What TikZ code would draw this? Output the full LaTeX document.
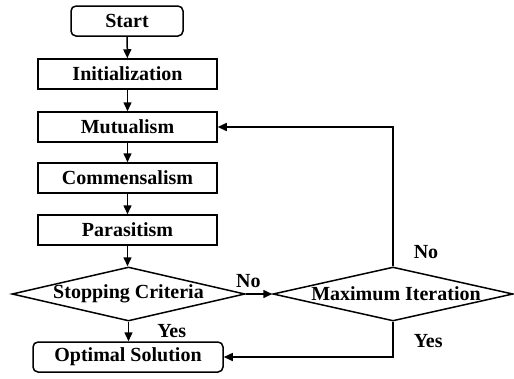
\documentclass[tikz,border=0pt]{standalone}
\usepackage{fontspec}
\setmainfont{Liberation Serif}
\usetikzlibrary{shapes.geometric,arrows.meta}
\begin{document}
\begin{tikzpicture}[x=1pt,y=-1pt,
  every node/.style={font=\fontsize{20}{23}\selectfont\bfseries, line width=1.5pt},
  proc/.style={draw, rectangle, minimum width=179pt, minimum height=30pt, inner sep=0pt},
  term/.style={draw, rectangle, rounded corners=5pt, minimum height=30pt, inner sep=0pt},
  dia/.style={draw, diamond, inner sep=0pt, minimum height=54pt},
  lbl/.style={inner sep=0pt},
  arr/.style={line width=1.5pt, -{Triangle[length=9pt,width=8pt]}}
]
\useasboundingbox (0,0) rectangle (514,378);
\node[term, minimum width=112pt] (start) at (127,21) {Start};
\node[proc] (init) at (127.5,74) {Initialization};
\node[proc] (mut) at (127.5,127) {Mutualism};
\node[proc] (com) at (127.5,178) {Commensalism};
\node[proc] (par) at (127.5,230) {Parasitism};
\node[dia, minimum width=233pt, label={[lbl]center:Stopping Criteria}] (sc) at (128.5,294) {};
\node[dia, minimum width=240pt, label={[lbl,xshift=3pt]center:Maximum Iteration}] (mi) at (393,294) {};
\node[term, minimum width=190pt] (opt) at (128,357) {Optimal Solution};
\draw[arr] (start) -- (init);
\draw[arr] (init) -- (mut);
\draw[arr] (mut) -- (com);
\draw[arr] (com) -- (par);
\draw[arr] (par) -- (par.south |- sc.north);
\draw[arr] (sc.east) -- node[lbl, above=6pt, pos=0.1] (no1) {No} (mi.west);
\draw[arr] (sc.south) -- node[lbl, right=28pt, pos=0.5] (yes1) {Yes} (sc.south |- opt.north);
\draw[arr] (mi.north) -- node[lbl, right=20pt, pos=0.1] (no2) {No} (mi.north |- mut.east) -- (mut.east);
\draw[arr] (mi.south) -- node[lbl, right=20pt, pos=0.55] (yes2) {Yes} (mi.south |- opt.east) -- (opt.east);
\end{tikzpicture}
\end{document}
